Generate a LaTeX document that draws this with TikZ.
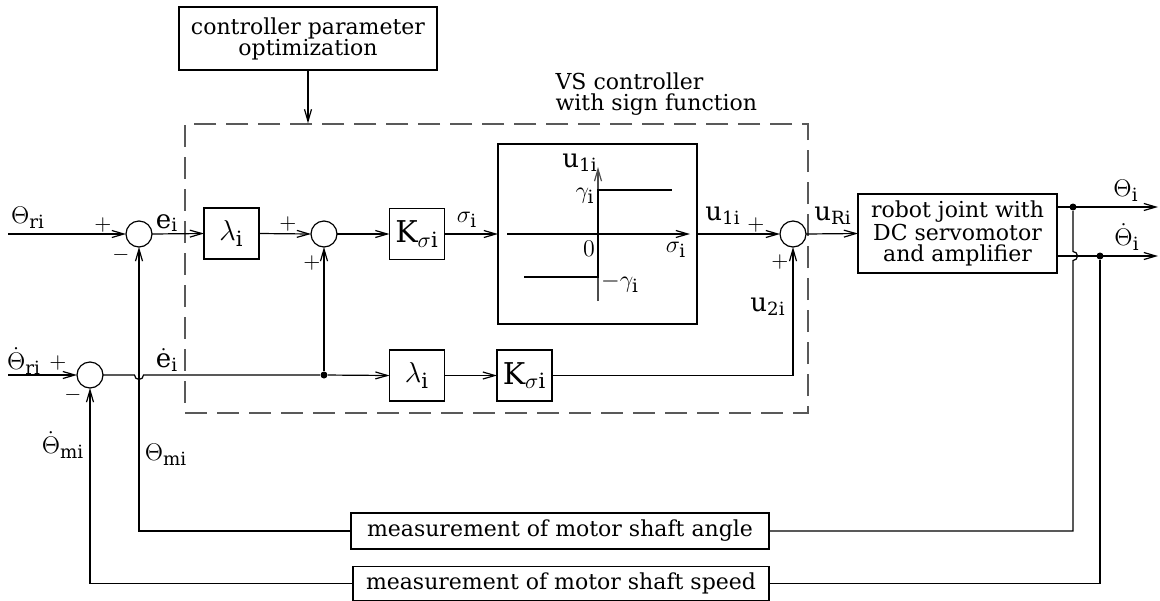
\documentclass[tikz,border=0pt]{standalone}
\usepackage{fontspec}
\setmainfont{DejaVu Serif}
\usetikzlibrary{arrows.meta}

\tikzset{
  sig/.style={-{Straight Barb[length=6pt,width=3.5pt]}},
  blk/.style={draw, minimum width=27.5pt, minimum height=25.5pt, inner sep=0pt, outer sep=0pt},
  sumc/.style={draw, circle, minimum size=13pt, inner sep=0pt, outer sep=0pt},
  jn/.style={circle, fill, inner sep=0pt, minimum size=3.5pt},
  lbl/.style={font=\fontsize{13}{14}\selectfont, inner sep=0pt},
  sgn/.style={font=\fontsize{11}{12}\selectfont, inner sep=0pt},
}

\begin{document}
\begin{tikzpicture}[x=0.5pt, y=-0.5pt, line width=0.6pt,
    every node/.append style={font=\fontsize{11}{10.5}\selectfont}]
    \useasboundingbox (0,0) rectangle (1160,600);

    % optimization and controller frame
    \node[draw, minimum width=129pt, minimum height=31.5pt, align=center, inner sep=0pt] (opt) at (308,38.5)
        {controller parameter\\optimization};
    \node[draw=black!65, dash pattern=on 11pt off 5pt, minimum width=311.5pt, minimum height=144.5pt] (vs) at (496.5,268.5) {};
    \node[anchor=west, align=left, inner sep=0pt] (vslbl) at (555,94) {VS controller\\with sign function};
    \draw[sig] (opt.south) -- (opt.south |- vs.north);

    % upper path
    \coordinate (thr) at (8,234);
    \node[sumc] (s1) at (139,234) {};
    \node[blk, font=\fontsize{15}{15}\selectfont] (l1) at (231.5,233.5) {$\lambda_{\mathrm{i}}$};
    \node[sumc] (s2) at (324,234) {};
    \node[blk, font=\fontsize{15}{15}\selectfont] (k1) at (417,234) {$\mathrm{K}_{\sigma\mathrm{i}}$};
    \node[draw, minimum width=99.5pt, minimum height=90pt, inner sep=0pt, outer sep=0pt] (sg) at (597.5,234) {};
    \node[sumc] (s3) at (793,234) {};
    \node[draw, minimum width=99.5pt, minimum height=39.5pt, align=center, inner sep=0pt, outer sep=0pt] (robot) at (957.5,233.5)
        {robot joint with\\DC servomotor\\and amplifier};

    \draw[sig] (thr) -- (s1.west);
    \draw[sig] (s1.east) -- (l1.west);
    \draw[sig] (l1.east) -- (s2.west);
    \draw[sig] (s2.east) -- (k1.west);
    \draw[sig] (k1.east) -- (sg.west);
    \draw[sig] (sg.east) -- (s3.west);
    \draw[sig] (s3.east) -- (robot.west);

    % sign function
    \draw[sig] (507,234) -- (690,234);
    \draw[sig, black!70] (598,301) -- (598,167);
    \draw[line width=1.1pt] (524,277) -- (598,277) -- (598,190) -- (672,190);
    \node[lbl] at (580,163) {$\mathrm{u}_{\mathrm{1i}}$};
    \node[lbl] at (585,196) {$\gamma_{\mathrm{i}}$};
    \node[lbl] at (589,249) {$0$};
    \node[lbl] at (620,283) {$-\gamma_{\mathrm{i}}$};
    \node[lbl] at (676,250) {$\sigma_{\mathrm{i}}$};

    % lower path
    \coordinate (thdr) at (8,375);
    \node[sumc] (s0) at (90,375) {};
    \node[jn] (de) at (324,375) {};
    \node[blk, font=\fontsize{15}{15}\selectfont] (l2) at (417,375.5) {$\lambda_{\mathrm{i}}$};
    \node[blk, font=\fontsize{15}{15}\selectfont] (k2) at (524.5,375.5) {$\mathrm{K}_{\sigma\mathrm{i}}$};

    \draw[sig] (thdr) -- (s0.west);
    \draw (s0.east) -- ([xshift=-2.25pt]s1.south |- s0) arc[start angle=180, end angle=360, radius=2.25pt] -- (de);
    \draw[sig] (de) -- (s2.south);
    \draw[sig] (de) -- (l2.west);
    \draw[sig] (l2.east) -- (k2.west);
    \draw[sig] (k2.east) -| (s3.south);

    % outputs and feedback
    \coordinate (o1) at (1158,207);
    \coordinate (o2) at (1158,256);
    \node[jn] (d1) at (1073,207) {};
    \node[jn] (d2) at (1100,256) {};
    \draw[sig] (robot.east |- o1) -- (o1);
    \draw[sig] (robot.east |- o2) -- (o2);
    \node[draw, minimum width=209pt, minimum height=18pt, inner sep=0pt, outer sep=0pt] (ma) at (560,531)
        {measurement of motor shaft angle};
    \node[draw, minimum width=208pt, minimum height=17pt, inner sep=0pt, outer sep=0pt] (ms) at (561,583.5)
        {measurement of motor shaft speed};
    \draw (d1) -- ([yshift=2.25pt]d1 |- d2) arc[start angle=90, end angle=-90, radius=2.25pt] -- (d1 |- ma) -- (ma.east);
    \draw (d2) |- (ms.east);
    \draw[sig] (ma.west) -| (s1.south);
    \draw[sig] (ms.west) -| (s0.south);

    % signal labels
    \node[lbl] at (28,218) {$\Theta_{\mathrm{ri}}$};
    \node[sgn] at (103,225) {$+$};
    \node[sgn] at (121,255) {$-$};
    \node[lbl] at (167,223) {$\mathrm{e}_{\mathrm{i}}$};
    \node[sgn] at (288,224) {$+$};
    \node[sgn] at (312,263) {$+$};
    \node[lbl] at (467,220) {$\sigma_{\mathrm{i}}$};
    \node[lbl] at (723,216) {$\mathrm{u}_{\mathrm{1i}}$};
    \node[sgn] at (756,225) {$+$};
    \node[sgn] at (780,262) {$+$};
    \node[lbl] at (768,307) {$\mathrm{u}_{\mathrm{2i}}$};
    \node[lbl] at (833,216) {$\mathrm{u}_{\mathrm{Ri}}$};
    \node[lbl] at (1126,191) {$\Theta_{\mathrm{i}}$};
    \node[lbl] at (1127,237) {$\dot{\Theta}_{\mathrm{i}}$};
    \node[lbl] at (24,361) {$\dot{\Theta}_{\mathrm{ri}}$};
    \node[sgn] at (58,363) {$+$};
    \node[sgn] at (73,395) {$-$};
    \node[lbl] at (167,360) {$\dot{\mathrm{e}}_{\mathrm{i}}$};
    \node[lbl] at (63,445) {$\dot{\Theta}_{\mathrm{mi}}$};
    \node[lbl] at (166,455) {$\Theta_{\mathrm{mi}}$};
\end{tikzpicture}
\end{document}
